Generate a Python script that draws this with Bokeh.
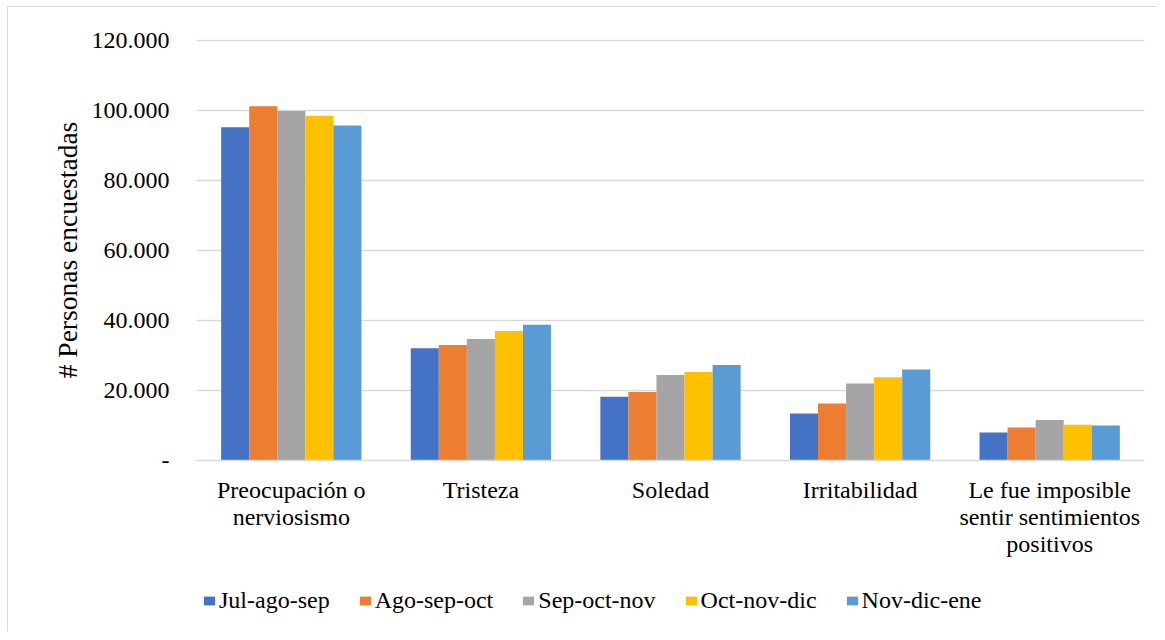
from bokeh.plotting import figure
from bokeh.models import Range1d, FixedTicker, Legend, LegendItem
from bokeh.layouts import column
from bokeh.transform import dodge
from bokeh.embed import file_html
from bokeh.resources import INLINE

categories = ["Preocupación o\nnerviosismo", "Tristeza", "Soledad", "Irritabilidad",
              "Le fue imposible\nsentir sentimientos\npositivos"]
series = ["Jul-ago-sep", "Ago-sep-oct", "Sep-oct-nov", "Oct-nov-dic", "Nov-dic-ene"]
colors = ["#4472C4", "#ED7D31", "#A5A5A5", "#FFC000", "#5B9BD5"]
jul_ago_sep = [95200, 32100, 18200, 13400, 8000]
ago_sep_oct = [101200, 33000, 19600, 16300, 9400]
sep_oct_nov = [99900, 34700, 24400, 22000, 11600]
oct_nov_dic = [98500, 37000, 25300, 23800, 10200]
nov_dic_ene = [95700, 38800, 27300, 26000, 10000]
values = [jul_ago_sep, ago_sep_oct, sep_oct_nov, oct_nov_dic, nov_dic_ene]
y_ticks = [0, 20000, 40000, 60000, 80000, 100000, 120000]
y_tick_labels = ["-", "20.000", "40.000", "60.000", "80.000", "100.000", "120.000"]

FONT = "Liberation Serif"

p = figure(x_range=categories, y_range=Range1d(0, 120300), width=1149, height=568,
           output_backend="svg", toolbar_location=None,
           min_border_left=188, min_border_right=13, min_border_top=32, min_border_bottom=115)
p.outline_line_color = None
p.xgrid.grid_line_color = None
p.ygrid.grid_line_color = "#d9d9d9"
p.ygrid.grid_line_width = 1.3

p.yaxis.ticker = FixedTicker(ticks=y_ticks)
p.yaxis.major_label_overrides = {t: l for t, l in zip(y_ticks, y_tick_labels)}
p.yaxis.axis_line_color = None
p.yaxis.major_tick_line_color = None
p.yaxis.minor_tick_line_color = None
p.yaxis.major_label_standoff = 21
p.yaxis.major_label_text_font = FONT
p.yaxis.major_label_text_font_size = "24px"
p.yaxis.major_label_text_color = "#000000"
p.yaxis.axis_label = "# Personas encuestadas"
p.yaxis.axis_label_text_font = FONT
p.yaxis.axis_label_text_font_size = "27.5px"
p.yaxis.axis_label_text_font_style = "normal"
p.yaxis.axis_label_text_color = "#000000"
p.yaxis.axis_label_standoff = 6

p.xaxis.axis_line_color = "#d9d9d9"
p.xaxis.axis_line_width = 1.3
p.xaxis.major_tick_line_color = None
p.xaxis.minor_tick_line_color = None
p.xaxis.major_label_standoff = 10
p.xaxis.major_label_text_font = FONT
p.xaxis.major_label_text_font_size = "24px"
p.xaxis.major_label_text_color = "#000000"
p.xaxis.major_label_text_line_height = 1.04

source = {"cat": categories}
for s, v in zip(series, values):
    source[s] = v

offsets = [-0.296, -0.148, 0.0, 0.148, 0.296]
for s, c, off in zip(series, colors, offsets):
    p.vbar(x=dodge("cat", off, range=p.x_range), top=s, width=0.148, source=source,
           fill_color=c, line_color=None)

# legend strip below the chart (hidden proxy renderers carry the legend swatches)
pl = figure(width=1149, height=56, x_range=categories, y_range=Range1d(0, 120300),
            output_backend="svg", toolbar_location=None,
            x_axis_location=None, y_axis_location=None,
            min_border_left=0, min_border_right=0, min_border_top=0, min_border_bottom=0)
pl.grid.visible = False
pl.outline_line_color = None
items = []
for s, c in zip(series, colors):
    r = pl.vbar(x="cat", top=s, width=0.148, source=source, fill_color=c, line_color=None,
                visible=False)
    items.append(LegendItem(label=s, renderers=[r]))
legend = Legend(items=items, orientation="horizontal", location=(6, 17),
                glyph_width=14, glyph_height=11, label_standoff=3, spacing=28,
                padding=0, margin=0, border_line_color=None, background_fill_color=None,
                inactive_fill_alpha=0.0,
                label_text_font=FONT, label_text_font_size="24px", label_text_color="#000000")
pl.add_layout(legend, "center")

layout = column(p, pl, spacing=0)
layout.styles = {"margin-left": "7px", "margin-top": "6px",
                 "border-top": "1px solid #d9d9d9", "border-left": "1px solid #d9d9d9"}

open("out.html", "w").write(file_html(layout, INLINE))
